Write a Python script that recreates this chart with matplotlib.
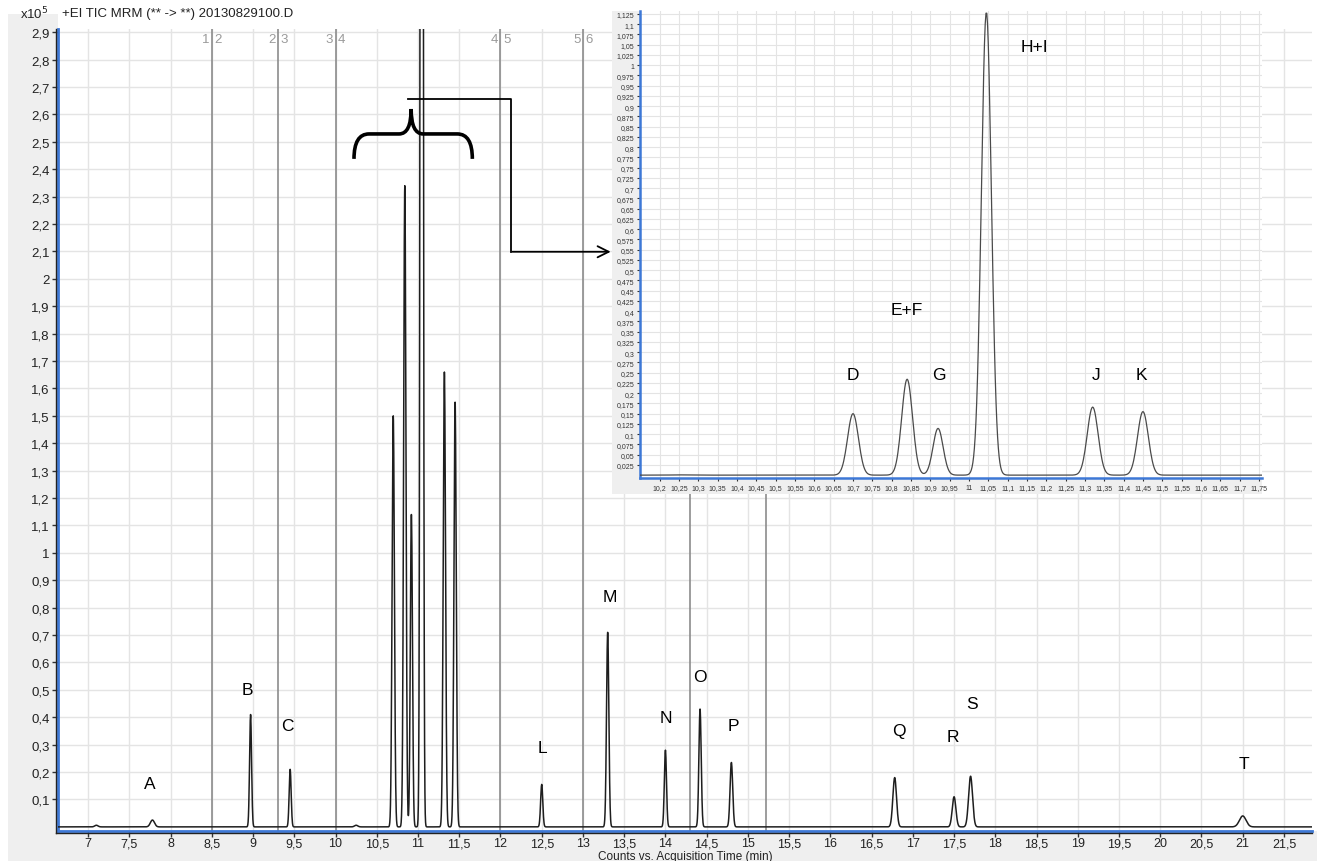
import numpy as np
import matplotlib
matplotlib.use('Agg')
import matplotlib.pyplot as plt
from matplotlib.patches import Rectangle, PathPatch
from matplotlib.path import Path
from matplotlib.lines import Line2D
from matplotlib.ticker import MultipleLocator, FuncFormatter

plt.rcParams['font.family'] = ['Liberation Sans', 'DejaVu Sans']

# peaks (retention time in min, height in x10^5 counts)
peak_rt = [7.10, 7.78, 8.97, 9.45, 10.25, 10.70, 10.84, 10.92, 11.045, 11.32, 11.45,
           12.50, 13.30, 14.00, 14.42, 14.80, 16.78, 17.50, 17.70, 21.00]
peak_height = [0.006, 0.025, 0.41, 0.21, 0.006, 1.50, 2.34, 1.14, 11.3, 1.66, 1.55,
               0.155, 0.71, 0.28, 0.43, 0.235, 0.18, 0.11, 0.185, 0.04]
peak_sigma = [0.02, 0.025, 0.012, 0.012, 0.02, 0.014, 0.014, 0.013, 0.013, 0.014, 0.014,
              0.013, 0.014, 0.013, 0.014, 0.016, 0.022, 0.022, 0.024, 0.04]

# labels in the main chart
main_names = ['A', 'B', 'C', 'L', 'M', 'N', 'O', 'P', 'Q', 'R', 'S', 'T']
main_label_x = [7.75, 8.93, 9.42, 12.51, 13.33, 14.0, 14.42, 14.82, 16.83, 17.49, 17.72, 21.01]
main_label_y = [0.16, 0.50, 0.37, 0.29, 0.84, 0.40, 0.55, 0.37, 0.35, 0.33, 0.45, 0.23]

# labels in the zoomed inset (x10^6 counts)
inset_names = ['D', 'E+F', 'G', 'H+I', 'J', 'K']
inset_label_x = [10.70, 10.84, 10.922, 11.169, 11.328, 11.445]
inset_label_y = [0.245, 0.405, 0.245, 1.046, 0.245, 0.245]

# MRM segment boundaries
segment_rt = [8.5, 9.3, 10.0, 12.0, 13.0, 14.3, 15.22]
segment_left = ['1', '2', '3', '4', '5', '6', '7']
segment_right = ['2', '3', '4', '5', '6', '7', '8']

t = np.arange(6.6, 21.9, 0.002)
signal = np.zeros_like(t)
for rt, h, s in zip(peak_rt, peak_height, peak_sigma):
    signal += h * np.exp(-0.5 * ((t - rt) / s) ** 2)

W, H = 1317, 862
fig = plt.figure(figsize=(W / 100, H / 100), dpi=100)
fig.patch.set_facecolor('white')


def fbox(x0, y0, x1, y1):
    return [x0 / W, 1 - y1 / H, (x1 - x0) / W, (y1 - y0) / H]


comma = FuncFormatter(lambda v, p: f"{v:g}".replace('.', ','))
blue = '#3d78d6'
grid_c = '#e4e4e4'
panel = '#efefef'

# grey label panels of the main chart
fig.add_artist(Rectangle((8 / W, 0), 50 / W, 1 - 15 / H, transform=fig.transFigure,
                         facecolor=panel, edgecolor='none', zorder=-2))
fig.add_artist(Rectangle((8 / W, 0), 1 - 8 / W, 1 - 832 / H, transform=fig.transFigure,
                         facecolor=panel, edgecolor='none', zorder=-2))

ax = fig.add_axes(fbox(58, 30, 1312, 832))
ax.set_zorder(0)
ax.plot(t, signal, color='#1e1e1e', lw=1.1, zorder=3)
ax.set_xlim(6.635, 21.84)
ax.set_ylim(-0.015, 2.912)
ax.xaxis.set_major_locator(MultipleLocator(0.5))
ax.set_yticks(np.arange(0.1, 2.95, 0.1))
ax.xaxis.set_major_formatter(comma)
ax.yaxis.set_major_formatter(comma)
ax.grid(True, color=grid_c, lw=1, zorder=0)
ax.set_axisbelow(True)
ax.tick_params(axis='both', labelsize=9.5, length=4, width=1, color='#333333',
               labelcolor='#222222', pad=2)
ax.tick_params(axis='x', pad=0.5, labelsize=9)
for s in ['top', 'right']:
    ax.spines[s].set_visible(False)
for s in ['left', 'bottom']:
    ax.spines[s].set_color(blue)
    ax.spines[s].set_linewidth(2)
fig.add_artist(Line2D([56 / W, 56 / W], [1 - 834 / H, 1 - 30 / H], color='#222222', lw=1,
                      transform=fig.transFigure))
fig.add_artist(Line2D([56 / W, 1312 / W], [1 - 834 / H, 1 - 834 / H], color='#222222', lw=1,
                      transform=fig.transFigure))

for x, l, r in zip(segment_rt, segment_left, segment_right):
    ax.axvline(x, color='#8c8c8c', lw=1.2, zorder=2)
    ax.text(x - 0.03, 2.875, l, ha='right', va='center', fontsize=9.5, color='#9a9a9a')
    ax.text(x + 0.03, 2.875, r, ha='left', va='center', fontsize=9.5, color='#9a9a9a')

for name, x, y in zip(main_names, main_label_x, main_label_y):
    ax.text(x, y, name, ha='center', va='center', fontsize=12.5, color='black')

# curly brace over the cluster and connector arrow to the inset
verts = [(10.224, 2.438), (10.224, 2.529), (10.406, 2.529), (10.771, 2.529),
         (10.917, 2.529), (10.917, 2.620), (10.917, 2.529), (11.063, 2.529),
         (11.477, 2.529), (11.659, 2.529), (11.659, 2.438)]
codes = [Path.MOVETO, Path.CURVE3, Path.CURVE3, Path.LINETO, Path.CURVE3, Path.CURVE3,
         Path.CURVE3, Path.CURVE3, Path.LINETO, Path.CURVE3, Path.CURVE3]
ax.add_patch(PathPatch(Path(verts, codes), facecolor='none', edgecolor='black', lw=2.6,
                       zorder=5, clip_on=False))
ax.plot([10.881, 12.122, 12.122], [2.657, 2.657, 2.099], color='black', lw=1.3, zorder=5)
ax.annotate('', xy=(13.37, 2.099), xytext=(12.11, 2.099),
            arrowprops=dict(arrowstyle='->', lw=1.3, color='black', mutation_scale=20),
            zorder=5)

fig.text(20 / W, 1 - 14 / H, r'x10$^{5}$', fontsize=9.5, va='center', ha='left', color='#222222')
fig.text(62 / W, 1 - 14 / H, '+EI TIC MRM (** -> **) 20130829100.D', fontsize=9.5,
         va='center', ha='left', color='#222222')
fig.text(685 / W, 1 - 857 / H, 'Counts vs. Acquisition Time (min)', fontsize=8.5,
         va='center', ha='center', color='#222222')

# inset panel
fig.add_artist(Rectangle((612 / W, 1 - 495 / H), 650 / W, 483 / H, transform=fig.transFigure,
                         facecolor=panel, edgecolor='none', zorder=1))
ins = fig.add_axes(fbox(640, 12, 1262, 479))
ins.set_zorder(2)
ins.plot(t, signal / 10, color='#4a4a4a', lw=0.9, zorder=3)
ins.set_xlim(10.149, 11.758)
ins.set_ylim(-0.007, 1.132)
ins.set_xticks(np.arange(10.2, 11.76, 0.05))
ins.set_yticks(np.arange(0.025, 1.126, 0.025))
ins.xaxis.set_major_formatter(comma)
ins.yaxis.set_major_formatter(comma)
ins.grid(True, color=grid_c, lw=0.8)
ins.set_axisbelow(True)
ins.tick_params(axis='both', labelsize=5, length=2.5, width=0.8, color='#333333',
                labelcolor='#333333', pad=1.5)
for s in ['top', 'right']:
    ins.spines[s].set_visible(False)
for s in ['left', 'bottom']:
    ins.spines[s].set_color(blue)
    ins.spines[s].set_linewidth(1.8)
for name, x, y in zip(inset_names, inset_label_x, inset_label_y):
    ins.text(x, y, name, ha='center', va='center', fontsize=12.5, color='black')

fig.savefig('out.png', dpi=100, facecolor='white')
